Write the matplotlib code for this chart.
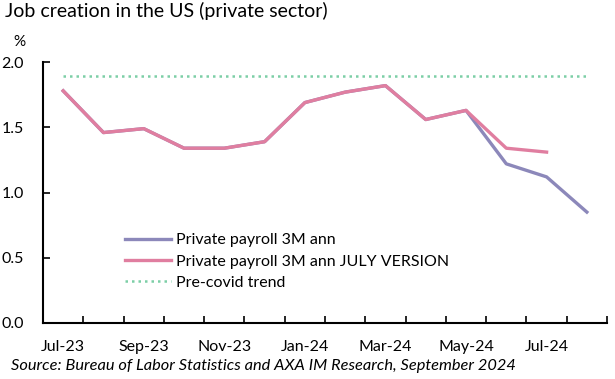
import numpy as np
import matplotlib.pyplot as plt

months = ["Jul-23", "Aug-23", "Sep-23", "Oct-23", "Nov-23", "Dec-23", "Jan-24",
          "Feb-24", "Mar-24", "Apr-24", "May-24", "Jun-24", "Jul-24", "Aug-24"]
payroll = [1.78, 1.46, 1.49, 1.34, 1.34, 1.39, 1.69, 1.77, 1.82, 1.56, 1.63, 1.22, 1.12, 0.85]
payroll_july = [1.78, 1.46, 1.49, 1.34, 1.34, 1.39, 1.69, 1.77, 1.82, 1.56, 1.63, 1.34, 1.31]
trend = [1.89] * len(months)

plt.rcParams['font.family'] = ['Lato', 'DejaVu Sans']

fig = plt.figure(figsize=(6.15, 3.79), dpi=100)
ax = fig.add_axes([0.070, 0.148, 0.917, 0.688])

x = np.arange(len(months))
ax.plot(x, payroll, color="#8c88ba", lw=2.4, label="Private payroll 3M ann", zorder=2)
ax.plot(x[:len(payroll_july)], payroll_july, color="#e07ea0", lw=2.4,
        label="Private payroll 3M ann JULY VERSION", zorder=3)
ax.plot(x, trend, color="#7ccfa6", lw=1.8, ls=(0, (1, 1.6)), label="Pre-covid trend")

ax.set_xlim(-0.5, len(months) - 0.5)
ax.set_ylim(0, 2.0)
ax.set_yticks([0, 0.5, 1.0, 1.5, 2.0])
ax.set_yticklabels(["0.0", "0.5", "1.0", "1.5", "2.0"])
ax.set_xticks(x[::2])
ax.set_xticklabels(months[::2])
ax.set_xticks(np.arange(-0.5, len(months)), minor=True)
ax.tick_params(axis="x", which="major", length=0, pad=12, labelsize=11.5)
ax.tick_params(axis="x", which="minor", direction="in", length=5, width=1.2)
ax.tick_params(axis="y", direction="in", length=5, width=1.2, pad=14, labelsize=11.5)

for s in ["top", "right"]:
    ax.spines[s].set_visible(False)
for s in ["left", "bottom"]:
    ax.spines[s].set_linewidth(1.5)

leg = ax.legend(loc="upper left", bbox_to_anchor=(0.12, 0.40), frameon=False,
                handlelength=2.9, handletextpad=0.3, labelspacing=0.45, fontsize=11.5)

fig.text(0.008, 0.955, "Job creation in the US (private sector)", fontsize=14)
fig.text(0.022, 0.878, "%", fontsize=11)
fig.text(0.018, 0.025, "Source: Bureau of Labor Statistics and AXA IM Research, September 2024",
         fontsize=11.8, style="italic")

fig.savefig("out.png", dpi=100)
